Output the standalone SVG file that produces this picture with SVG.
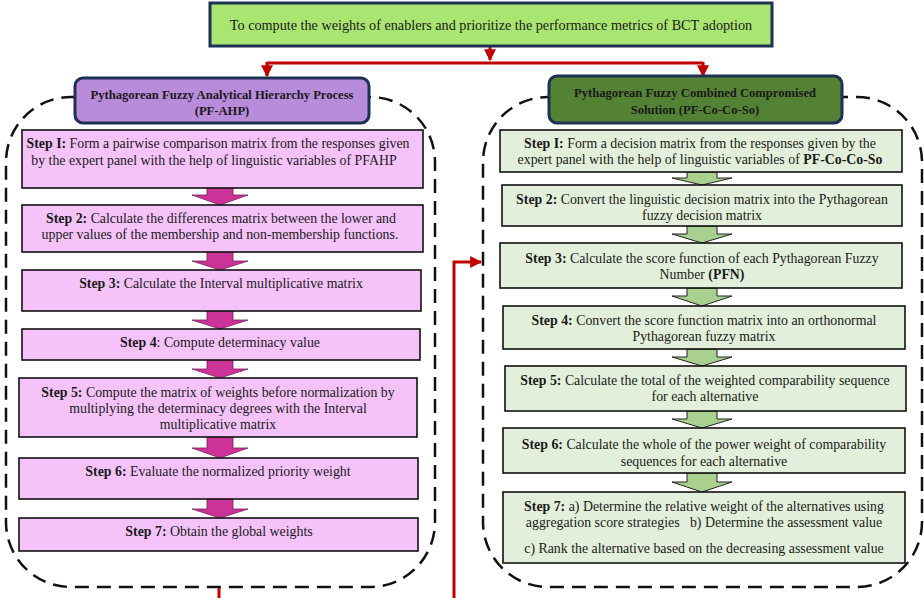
<svg xmlns="http://www.w3.org/2000/svg" width="924" height="598" viewBox="0 0 924 598">
<defs>
<style>
text{font-family:"Liberation Serif","Times New Roman",serif;fill:#1a1a1a;text-anchor:middle}
.t{font-size:13.85px}
.h{font-size:12.6px;font-weight:bold}
.b{font-weight:bold}
.pk{fill:#f5c3fa;stroke:#111;stroke-width:1.6}
.gr{fill:#e2efda;stroke:#111;stroke-width:1.6}
.pa{fill:#cc3399;stroke:#7a1f5c;stroke-width:0.8}
.ga{fill:#a9d08e;stroke:#222;stroke-width:1}
.dash{fill:none;stroke:#111;stroke-width:2.5;stroke-dasharray:14 8}
.red{fill:none;stroke:#c00000;stroke-width:3}
</style>
<marker id="ah" viewBox="0 0 10 10" refX="9" refY="5" markerWidth="4" markerHeight="4" orient="auto" markerUnits="strokeWidth">
<path d="M0,0 L10,5 L0,10 z" fill="#c00000"/>
</marker>
</defs>
<rect width="924" height="598" fill="#fff"/>

<g id="containers">
<rect class="dash" x="6" y="97" width="429" height="490" rx="65" ry="65"/>
<rect class="dash" x="483" y="97" width="439" height="490" rx="65" ry="65"/>
</g>

<g id="connectors">
<path class="red" d="M490,46 V60" marker-end="url(#ah)"/>
<path class="red" d="M267,63 H703"/>
<path class="red" d="M267,62 V76" marker-end="url(#ah)"/>
<path class="red" d="M703,62 V76" marker-end="url(#ah)"/>
<path class="red" d="M219,588 V598"/>
<path class="red" d="M454,598 V262 H481" marker-end="url(#ah)"/>
</g>

<g id="goal">
<rect x="210" y="3" width="562" height="43" fill="#a9e571" stroke="#1f3055" stroke-width="3"/>
<text x="491" y="30" font-size="14.2">To compute the weights of enablers and prioritize the performance metrics of BCT adoption</text>
</g>

<g id="pfahp-header">
<rect x="75" y="78" width="294" height="45" rx="8" fill="#b98bdb" stroke="#1f3055" stroke-width="3"/>
<text class="h" x="222" y="99">Pythagorean Fuzzy Analytical Hierarchy Process</text>
<text class="h" x="222" y="115">(PF-AHP)</text>
</g>

<g id="pfcocoso-header">
<rect x="549" y="76" width="293" height="47" rx="8" fill="#548235" stroke="#1f3055" stroke-width="3"/>
<text class="h" x="695" y="97">Pythagorean Fuzzy Combined Compromised</text>
<text class="h" x="695" y="114">Solution (PF-Co-Co-So)</text>
</g>

<g id="left-arrows">
<path class="pa" d="M207,188 H233 V195 H248 L220,205 L192,195 H207 Z"/>
<path class="pa" d="M207,252 H233 V261 H248 L220,270 L192,261 H207 Z"/>
<path class="pa" d="M207,311 H233 V320 H248 L220,329 L192,320 H207 Z"/>
<path class="pa" d="M207,360 H233 V369 H248 L220,378 L192,369 H207 Z"/>
<path class="pa" d="M207,437 H233 V448 H248 L220,458 L192,448 H207 Z"/>
<path class="pa" d="M207,499 H233 V509 H248 L220,518 L192,509 H207 Z"/>
</g>

<g id="right-arrows">
<path class="ga" d="M687,172 H717 V178 H732 L702,185 L672,178 H687 Z"/>
<path class="ga" d="M687,226 H717 V234 H732 L702,243 L672,234 H687 Z"/>
<path class="ga" d="M687,288 H717 V296 H732 L702,306 L672,296 H687 Z"/>
<path class="ga" d="M687,349 H717 V357 H732 L702,366 L672,357 H687 Z"/>
<path class="ga" d="M687,411 H717 V419 H732 L702,428 L672,419 H687 Z"/>
<path class="ga" d="M687,473 H717 V482 H732 L702,492 L672,482 H687 Z"/>
</g>

<g id="L1">
<rect class="pk" x="22" y="130" width="401" height="58"/>
<text class="t" x="218" y="148"><tspan class="b">Step I:</tspan> Form a pairwise comparison matrix from the responses given</text>
<text class="t" x="214" y="165">by the expert panel with the help of linguistic variables of PFAHP</text>
</g>
<g id="L2">
<rect class="pk" x="22" y="205" width="401" height="47"/>
<text class="t" x="221" y="223"><tspan class="b">Step 2:</tspan> Calculate the differences matrix between the lower and</text>
<text class="t" x="220" y="239">upper values of the membership and non-membership functions.</text>
</g>
<g id="L3">
<rect class="pk" x="22" y="270" width="399" height="41"/>
<text class="t" x="221" y="288"><tspan class="b">Step 3:</tspan> Calculate the Interval multiplicative matrix</text>
</g>
<g id="L4">
<rect class="pk" x="22" y="329" width="398" height="31"/>
<text class="t" x="220" y="347"><tspan class="b">Step 4</tspan>: Compute determinacy value</text>
</g>
<g id="L5">
<rect class="pk" x="19" y="378" width="398" height="59"/>
<text class="t" x="218" y="397"><tspan class="b">Step 5:</tspan> Compute the matrix of weights before normalization by</text>
<text class="t" x="218" y="413">multiplying the determinacy degrees with the Interval</text>
<text class="t" x="218" y="429">multiplicative matrix</text>
</g>
<g id="L6">
<rect class="pk" x="19" y="458" width="399" height="41"/>
<text class="t" x="218" y="476"><tspan class="b">Step 6:</tspan> Evaluate the normalized priority weight</text>
</g>
<g id="L7">
<rect class="pk" x="19" y="518" width="399" height="33"/>
<text class="t" x="219" y="536"><tspan class="b">Step 7:</tspan> Obtain the global weights</text>
</g>

<g id="R1">
<rect class="gr" x="500" y="130" width="402" height="42"/>
<text class="t" x="700" y="148"><tspan class="b">Step I:</tspan> Form a decision matrix from the responses given by the</text>
<text class="t" x="700" y="164">expert panel with the help of linguistic variables of <tspan class="b">PF-Co-Co-So</tspan></text>
</g>
<g id="R2">
<rect class="gr" x="502" y="185" width="400" height="41"/>
<text class="t" x="702" y="204"><tspan class="b">Step 2:</tspan> Convert the linguistic decision matrix into the Pythagorean</text>
<text class="t" x="702" y="220">fuzzy decision matrix</text>
</g>
<g id="R3">
<rect class="gr" x="500" y="243" width="402" height="45"/>
<text class="t" x="702" y="263"><tspan class="b">Step 3:</tspan> Calculate the score function of each Pythagorean Fuzzy</text>
<text class="t" x="702" y="279">Number <tspan class="b">(PFN)</tspan></text>
</g>
<g id="R4">
<rect class="gr" x="503" y="306" width="402" height="43"/>
<text class="t" x="704" y="325"><tspan class="b">Step 4:</tspan> Convert the score function matrix into an orthonormal</text>
<text class="t" x="704" y="341">Pythagorean fuzzy matrix</text>
</g>
<g id="R5">
<rect class="gr" x="505" y="366" width="401" height="45"/>
<text class="t" x="705" y="385"><tspan class="b">Step 5:</tspan> Calculate the total of the weighted comparability sequence</text>
<text class="t" x="705" y="401">for each alternative</text>
</g>
<g id="R6">
<rect class="gr" x="503" y="428" width="402" height="45"/>
<text class="t" x="704" y="449"><tspan class="b">Step 6:</tspan> Calculate the whole of the power weight of comparability</text>
<text class="t" x="704" y="466">sequences for each alternative</text>
</g>
<g id="R7">
<rect class="gr" x="503" y="492" width="402" height="71"/>
<text class="t" x="704" y="511"><tspan class="b">Step 7:</tspan> a) Determine the relative weight of the alternatives using</text>
<text class="t" x="704" y="527" xml:space="preserve">aggregation score strategies   b) Determine the assessment value</text>
<text class="t" x="704" y="553">c) Rank the alternative based on the decreasing assessment value</text>
</g>
</svg>
